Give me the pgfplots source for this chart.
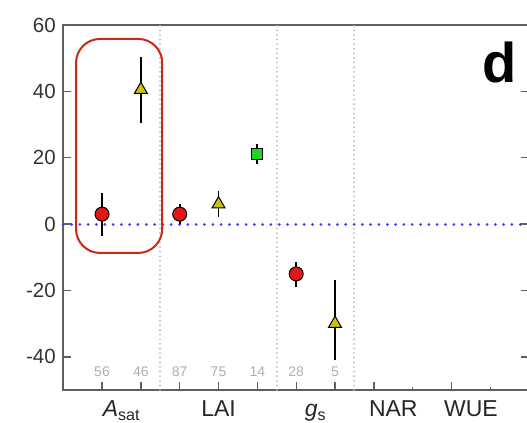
\documentclass[border=0pt]{standalone}
\usepackage{pgfplots}
\pgfplotsset{compat=1.18}
\usepackage{fontspec}
\setmainfont{Liberation Sans}
\definecolor{mred}{RGB}{228,22,22}
\definecolor{myel}{RGB}{200,196,10}
\definecolor{mgrn}{RGB}{30,215,30}
\definecolor{boxred}{RGB}{205,40,20}
\definecolor{dotblue}{RGB}{60,60,250}
\definecolor{spine}{RGB}{95,95,95}
\definecolor{cntgray}{RGB}{175,175,175}
\definecolor{vgray}{RGB}{185,185,185}
\tikzset{
  cntlab/.style={text=cntgray, font=\fontsize{14bp}{16bp}\selectfont},
  catlab/.style={anchor=base, font=\fontsize{23bp}{27bp}\selectfont, text=black!85, inner sep=0pt},
}
\begin{document}
\begin{tikzpicture}
\begin{axis}[
  scale only axis,
  width=466bp, height=365bp,
  xmin=0, xmax=12, ymin=-50, ymax=60,
  clip=false,
  axis line style={spine, line width=1.4bp},
  xtick={1,2,3,4,5,6,7,8,10},
  minor xtick={9,11},
  xticklabels={},
  xtick pos=bottom,
  ytick={-40,-20,0,20,40,60},
  tick align=inside,
  major tick length=8bp,
  minor tick length=3bp,
  tick style={spine, line width=1.4bp},
  /pgf/number format/assume math mode=true,
  yticklabel style={font=\fontsize{20.5bp}{24bp}\selectfont, text=black!80, xshift=-4bp},
  error bars/error bar style={black, line width=1.8bp},
  error bars/error mark=none,
]
% reference lines
\draw[vgray, line width=2bp, line cap=round, dash pattern=on 0.01bp off 4.6bp] (axis cs:2.5,-50) -- (axis cs:2.5,60);
\draw[vgray, line width=2bp, line cap=round, dash pattern=on 0.01bp off 4.6bp] (axis cs:5.5,-50) -- (axis cs:5.5,60);
\draw[vgray, line width=2bp, line cap=round, dash pattern=on 0.01bp off 4.6bp] (axis cs:7.5,-50) -- (axis cs:7.5,60);
\draw[dotblue, line width=3bp, line cap=round, dash pattern=on 0.01bp off 8.3bp] (axis cs:0,0) -- (axis cs:12,0);

\addplot[only marks, mark=*, mark size=7bp,
  mark options={fill=mred, draw=black, line width=1bp},
  error bars/.cd, y dir=both, y explicit]
  coordinates {
    (1,3)   += (0,6.5) -= (0,6.5)
    (3,3)   += (0,3)   -= (0,3)
    (6,-15) += (0,3.5) -= (0,4)
  };
\addplot[only marks, mark=triangle*, mark size=7.5bp,
  mark options={fill=myel, draw=black, line width=1bp},
  error bars/.cd, y dir=both, y explicit]
  coordinates {
    (2,40.5) += (0,10) -= (0,10)
    (4,6)    += (0,4)  -= (0,4)
    (7,-30)  += (0,13) -= (0,11)
  };
\addplot[only marks, mark=square*, mark size=5.5bp,
  mark options={fill=mgrn, draw=black, line width=1bp},
  error bars/.cd, y dir=both, y explicit]
  coordinates {
    (5,21) += (0,3) -= (0,3)
  };

% sample sizes
\node[cntlab] at (axis cs:1,-44.6) {56};
\node[cntlab] at (axis cs:2,-44.6) {46};
\node[cntlab] at (axis cs:3,-44.6) {87};
\node[cntlab] at (axis cs:4,-44.6) {75};
\node[cntlab] at (axis cs:5,-44.6) {14};
\node[cntlab] at (axis cs:6,-44.6) {28};
\node[cntlab] at (axis cs:7,-44.6) {5};
% highlight box
\draw[boxred, line width=2bp, rounded corners=24bp] (axis cs:0.33,55.8) rectangle (axis cs:2.55,-8.7);
% panel letter
\node[font=\fontsize{56bp}{60bp}\selectfont\bfseries] at (axis cs:11.25,48.8) {d};
% category labels
\node[catlab] at ([yshift=-27bp]axis cs:1.5,-50) {\textit{A}\textsubscript{sat}};
\node[catlab] at ([yshift=-27bp]axis cs:4,-50) {LAI};
\node[catlab] at ([yshift=-27bp]axis cs:6.5,-50) {\textit{g}\textsubscript{s}};
\node[catlab] at ([yshift=-27bp]axis cs:8.5,-50) {NAR};
\node[catlab] at ([yshift=-27bp]axis cs:10.5,-50) {WUE};
\coordinate (bl) at (rel axis cs:0,0);
\coordinate (tr) at (rel axis cs:1,1);
\end{axis}
\pgfresetboundingbox
\path[use as bounding box] ([shift={(-63.2bp,-33bp)}]bl) rectangle ([shift={(-2.2bp,25bp)}]tr);
\end{tikzpicture}
\end{document}
